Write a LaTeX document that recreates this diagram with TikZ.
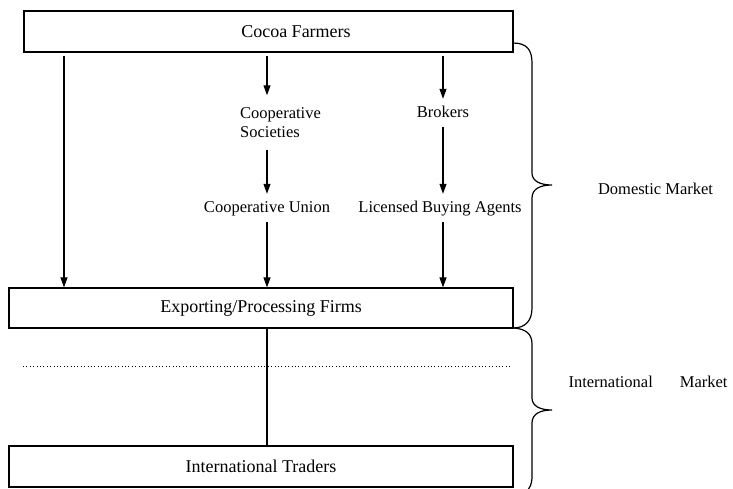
\documentclass[tikz,border=0pt]{standalone}
\usepackage{fontspec}
\setmainfont{Liberation Serif}
\usetikzlibrary{arrows.meta, positioning}

\tikzset{
    box/.style={draw, line width=1.2pt, minimum height=41pt, inner sep=0pt,
                font=\fontsize{18}{21}\selectfont},
    lbl/.style={inner xsep=0pt, inner ysep=6pt, text height=12pt, text depth=4pt,
                font=\fontsize{16.5}{19}\selectfont},
    side/.style={font=\fontsize{16.5}{19}\selectfont},
    flow/.style={line width=1.1pt, -{Triangle[width=7pt,length=10pt]}},
    brace/.style={line width=1.2pt},
}

\begin{document}
\begin{tikzpicture}[x=1pt, y=-1pt]
        \useasboundingbox (0,0) rectangle (733,488);

        % boxes
        \node[box, minimum width=489pt] (farmers)   at (268.5,31.5) {\hspace*{55pt}Cocoa Farmers};
        \node[box, minimum width=504pt, minimum height=40pt] (exporters) at (261,308) {Exporting/Processing Firms};
        \node[box, minimum width=504pt] (traders)   at (261,466.5) {International Traders};

        % intermediaries
        \node[lbl, anchor=west, align=left, text height=, text depth=, inner ysep=12pt]
                                 (societies) at (240,122.5) {Cooperative\\Societies};
        \node[lbl]               (union)     at (267,208)   {Cooperative Union};
        \node[lbl]               (brokers)   at (443,113)   {Brokers};
        \node[lbl]               (agents)    at (440,208)   {Licensed Buying Agents};
        \coordinate              (direct)    at (64,0);

        \draw[flow] ([yshift=-3pt]farmers.south -| direct) -- (exporters.north -| direct);
        \draw[flow] ([yshift=-3pt]farmers.south -| union)  -- (societies.north -| union);
        \draw[flow] (societies.south -| union)               -- (union.north);
        \draw[flow] (union.south)                            -- (exporters.north -| union);
        \draw[flow] ([yshift=-3pt]farmers.south -| brokers) -- (brokers.north);
        \draw[flow] (brokers.south)                          -- (brokers |- agents.north);
        \draw[flow] (brokers |- agents.south)                -- (exporters.north -| brokers);

        \draw[line width=1.1pt] (exporters.south -| union) -- (traders.north -| union);
        \draw[line width=1pt, dash pattern=on 1pt off 2.4pt] (23,366) -- (512,366);

        % braces
        \draw[brace] (513,43) .. controls (527,43) and (532,50) .. (532,63)
            -- (532,173) .. controls (532,181) and (540,185) .. (552,185)
            .. controls (540,185) and (532,189) .. (532,198)
            -- (532,308) .. controls (532,320) and (526,328) .. (513,328);
        \draw[brace] (514,328) .. controls (526,329) and (532,334) .. (532,344)
            -- (532,398) .. controls (532,406) and (540,410) .. (552,410)
            .. controls (540,410) and (532,414) .. (532,423)
            -- (532,476) .. controls (532,484) and (530,488) .. (526,492);

        \node[side] (domestic)      at (655.5,189) {Domestic Market};
        \node[side] (international) at (648,382)   {International\hspace{27pt}Market};
\end{tikzpicture}
\end{document}
